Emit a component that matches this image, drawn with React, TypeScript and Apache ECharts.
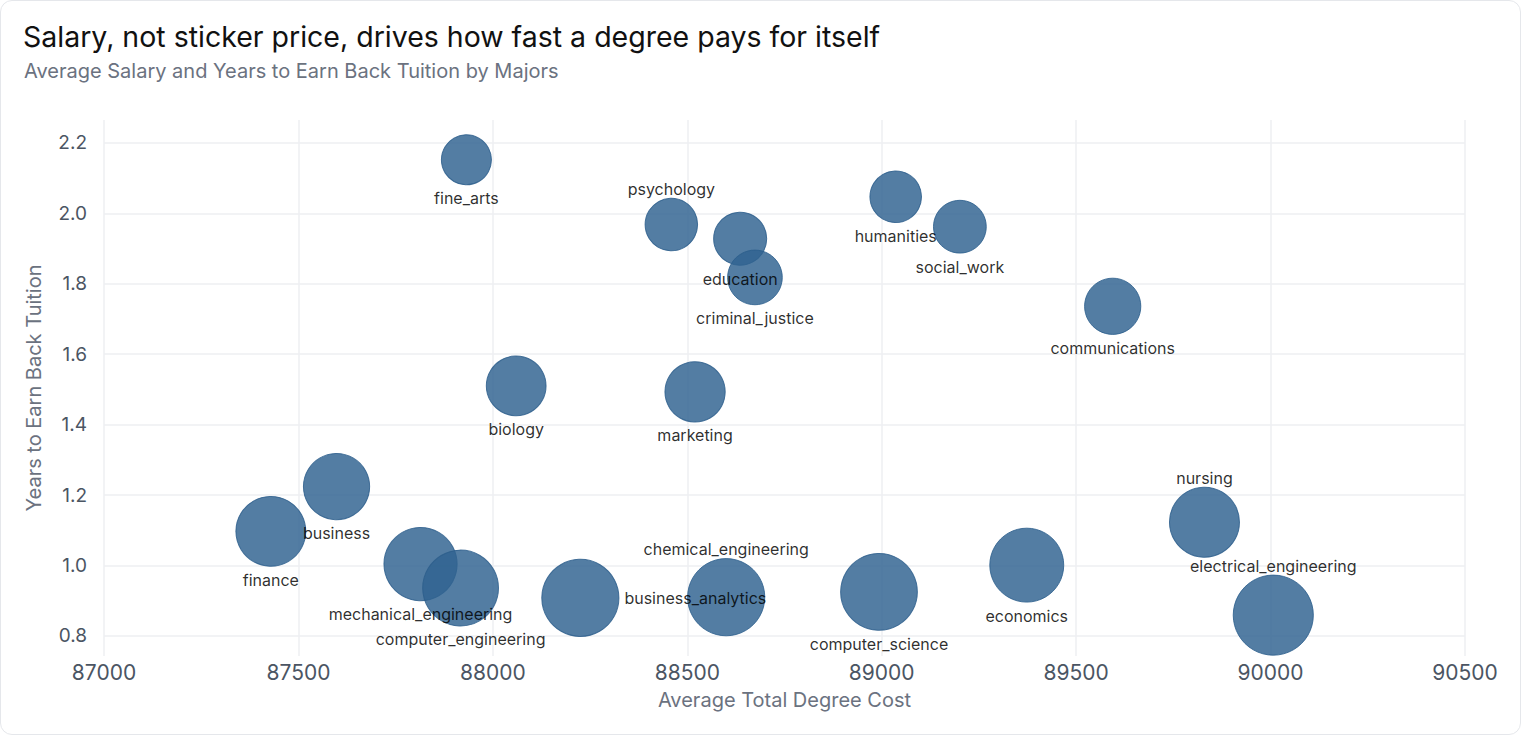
import React, { useEffect, useRef } from 'react';
import * as echarts from 'echarts';

// Majors
const majors = [
  'fine_arts', 'psychology', 'education', 'criminal_justice', 'humanities',
  'social_work', 'communications', 'biology', 'marketing', 'business',
  'finance', 'mechanical_engineering', 'computer_engineering', 'business_analytics',
  'chemical_engineering', 'computer_science', 'economics', 'nursing', 'electrical_engineering'
];

// Average total degree cost (x)
const degreeCost = [
  87932, 88459, 88636, 88674, 89036,
  89201, 89594, 88060, 88520, 87598,
  87429, 87814, 87917, 88225,
  88600, 88993, 89373, 89830, 90007
];

// Years to earn back tuition (y)
const yearsToEarnBack = [
  2.152, 1.968, 1.928, 1.818, 2.047,
  1.962, 1.736, 1.510, 1.493, 1.224,
  1.097, 1.004, 0.936, 0.908,
  0.910, 0.925, 1.001, 1.123, 0.859
];

// Average salary (bubble area)
const avgSalary = [
  40900, 45000, 46000, 48800, 43500,
  45500, 51600, 58300, 59300, 71600,
  79700, 87500, 93900, 97200,
  97400, 96200, 89300, 80000, 104800
];

// where each bubble's label sits
const labelSide = [
  'bottom', 'top', 'bottom', 'bottom', 'bottom',
  'bottom', 'bottom', 'bottom', 'bottom', 'bottom',
  'bottom', 'bottom', 'bottom', 'right',
  'top', 'bottom', 'bottom', 'top', 'top'
];

const yTicks = [0.8, 1.0, 1.2, 1.4, 1.6, 1.8, 2.0, 2.2];

const App: React.FC = () => {
  const chartRef = useRef<HTMLDivElement>(null);

  useEffect(() => {
    document.body.style.margin = '0';
    if (!chartRef.current) return;

    const chart = echarts.init(chartRef.current, null, { renderer: 'svg' });
    const font = 'Inter, "Noto Sans", sans-serif';

    const points = majors.map((name, i) => ({
      name,
      value: [degreeCost[i], yearsToEarnBack[i], avgSalary[i]],
      label: { position: labelSide[i], distance: labelSide[i] === 'top' ? 1 : 5 }
    }));

    chart.setOption({
      animation: false,
      backgroundColor: 'transparent',
      textStyle: { fontFamily: font },
      title: [
        {
          text: 'Salary, not sticker price, drives how fast a degree pays for itself',
          left: 22,
          top: 21,
          padding: 0,
          textStyle: { fontFamily: font, fontSize: 28.5, fontWeight: 400, color: '#111111' }
        },
        {
          text: 'Average Salary and Years to Earn Back Tuition by Majors',
          left: 23,
          top: 60,
          padding: 0,
          textStyle: { fontFamily: font, fontSize: 20, fontWeight: 400, color: '#6b7280' }
        }
      ],
      grid: { left: 103, right: 55, top: 119, bottom: 78, containLabel: false },
      xAxis: {
        type: 'value',
        min: 87000,
        max: 90500,
        interval: 500,
        name: 'Average Total Degree Cost',
        nameLocation: 'middle',
        nameGap: 34,
        nameTextStyle: { color: '#6b7280', fontSize: 20, fontFamily: font },
        axisLine: { show: false },
        axisTick: { show: false },
        axisLabel: {
          color: '#4b5563',
          fontSize: 21,
          margin: 6,
          fontFamily: font,
          formatter: (v: number) => String(v)
        },
        splitLine: { show: true, lineStyle: { color: '#eeeff2', width: 1.5 } }
      },
      yAxis: {
        type: 'value',
        min: 0.743,
        max: 2.265,
        name: 'Years to Earn Back Tuition',
        nameLocation: 'middle',
        nameGap: 60,
        nameTextStyle: { color: '#6b7280', fontSize: 20, fontFamily: font },
        axisLine: { show: false },
        axisTick: { show: false, customValues: yTicks },
        axisLabel: {
          color: '#4b5563',
          fontSize: 19,
          margin: 17,
          fontFamily: font,
          customValues: yTicks,
          formatter: (v: number) => v.toFixed(1)
        },
        splitLine: { show: true, lineStyle: { color: '#eeeff2', width: 1.5 } }
      },
      series: [
        {
          type: 'scatter',
          data: points,
          symbolSize: (v: number[]) => 2 * 0.1237 * Math.sqrt(v[2]),
          itemStyle: {
            color: '#306390',
            opacity: 0.83,
            borderColor: '#2c5e8c',
            borderWidth: 1
          },
          label: {
            show: true,
            formatter: '{b}',
            color: '#000000',
            fontSize: 16,
            fontFamily: font
          },
          emphasis: { disabled: true }
        }
      ]
    });

    return () => chart.dispose();
  }, []);

  return (
    <div
      style={{
        width: 1521,
        height: 735,
        boxSizing: 'border-box',
        border: '1px solid #e5e7eb',
        borderRadius: 12,
        background: '#ffffff',
        overflow: 'hidden'
      }}
    >
      <div ref={chartRef} style={{ width: '100%', height: '100%' }}></div>
    </div>
  );
};

export default App;
